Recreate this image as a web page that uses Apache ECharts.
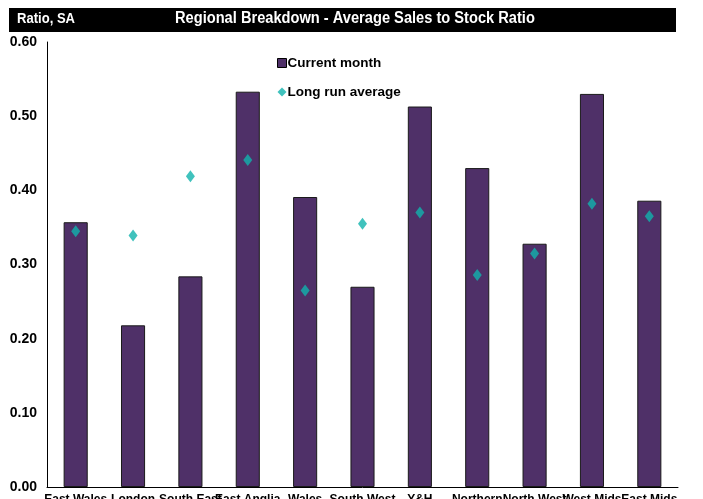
<!DOCTYPE html>
<html><head><meta charset="utf-8">
<script src="https://cdn.jsdelivr.net/npm/echarts@6/dist/echarts.min.js"></script>
<style>html,body{margin:0;padding:0;background:#fff}#c{width:703px;height:499px}</style>
</head><body><div id="c"></div>
<script>
const categories = ["East Wales","London","South East","East Anglia","Wales","South West","Y&H","Northern","North West","West Mids","East Mids"];
const currentMonth = [0.357,0.218,0.284,0.533,0.391,0.270,0.513,0.430,0.328,0.530,0.386];
const longRunAverage = [0.345,0.339,0.419,0.441,0.265,0.355,0.370,0.286,0.315,0.382,0.365];
const yTicks = [0,0.1,0.2,0.3,0.4,0.5,0.6];

const FONT = '"Liberation Sans",Arial,sans-serif';
const chart = echarts.init(document.getElementById('c'), null, {renderer:'canvas'});
chart.setOption({
  animation:false,
  backgroundColor:'#fff',
  textStyle:{fontFamily:FONT},
  graphic:[
    {type:'rect', shape:{x:9,y:8,width:667,height:24}, style:{fill:'#000'}},
    {type:'text', x:17, y:11, scaleX:0.87, style:{text:'Ratio, SA', fill:'#fff', font:'bold 15px '+FONT}},
    {type:'text', x:175, y:11, scaleX:0.915, style:{text:'Regional Breakdown - Average Sales to Stock Ratio', fill:'#fff', font:'bold 16px '+FONT}}
  ],
  grid:{left:47,right:25,top:42,bottom:12,outerBoundsMode:'none',containLabel:false},
  legend:{
    orient:'vertical', left:272, top:51, itemGap:15, itemWidth:9, itemHeight:9,
    textStyle:{fontFamily:FONT,fontWeight:'bold',fontSize:13.5,color:'#000',padding:[0,0,0,-4]},
    data:[
      {name:'Current month', icon:'rect', itemStyle:{color:'#4F3068',borderColor:'#000',borderWidth:1}},
      {name:'Long run average', icon:'diamond', itemStyle:{color:'#10B3AC'}}
    ]
  },
  xAxis:{
    type:'category', data:categories,
    axisLine:{lineStyle:{color:'#000',width:1}},
    axisTick:{show:false},
    axisLabel:{margin:7,interval:0,hideOverlap:false,fontFamily:FONT,fontWeight:'bold',fontSize:12,color:'#000'}
  },
  yAxis:{
    type:'value', min:0, max:0.6, interval:0.1,
    axisLine:{show:true,lineStyle:{color:'#000',width:1}},
    axisTick:{show:false},
    splitLine:{show:false},
    axisLabel:{margin:10,fontFamily:FONT,fontWeight:'bold',fontSize:14,color:'#000',
      formatter:v=>v.toFixed(2)}
  },
  series:[
    {name:'Current month', type:'bar', data:currentMonth, barWidth:'42%',
     itemStyle:{color:'#4F3068',borderColor:'#1a1a1a',borderWidth:1}},
    {name:'Long run average', type:'scatter', data:longRunAverage, symbol:'diamond', symbolSize:[9,12],
     itemStyle:{color:'#10B3AC'}, z:5}
  ]
});
</script></body></html>
